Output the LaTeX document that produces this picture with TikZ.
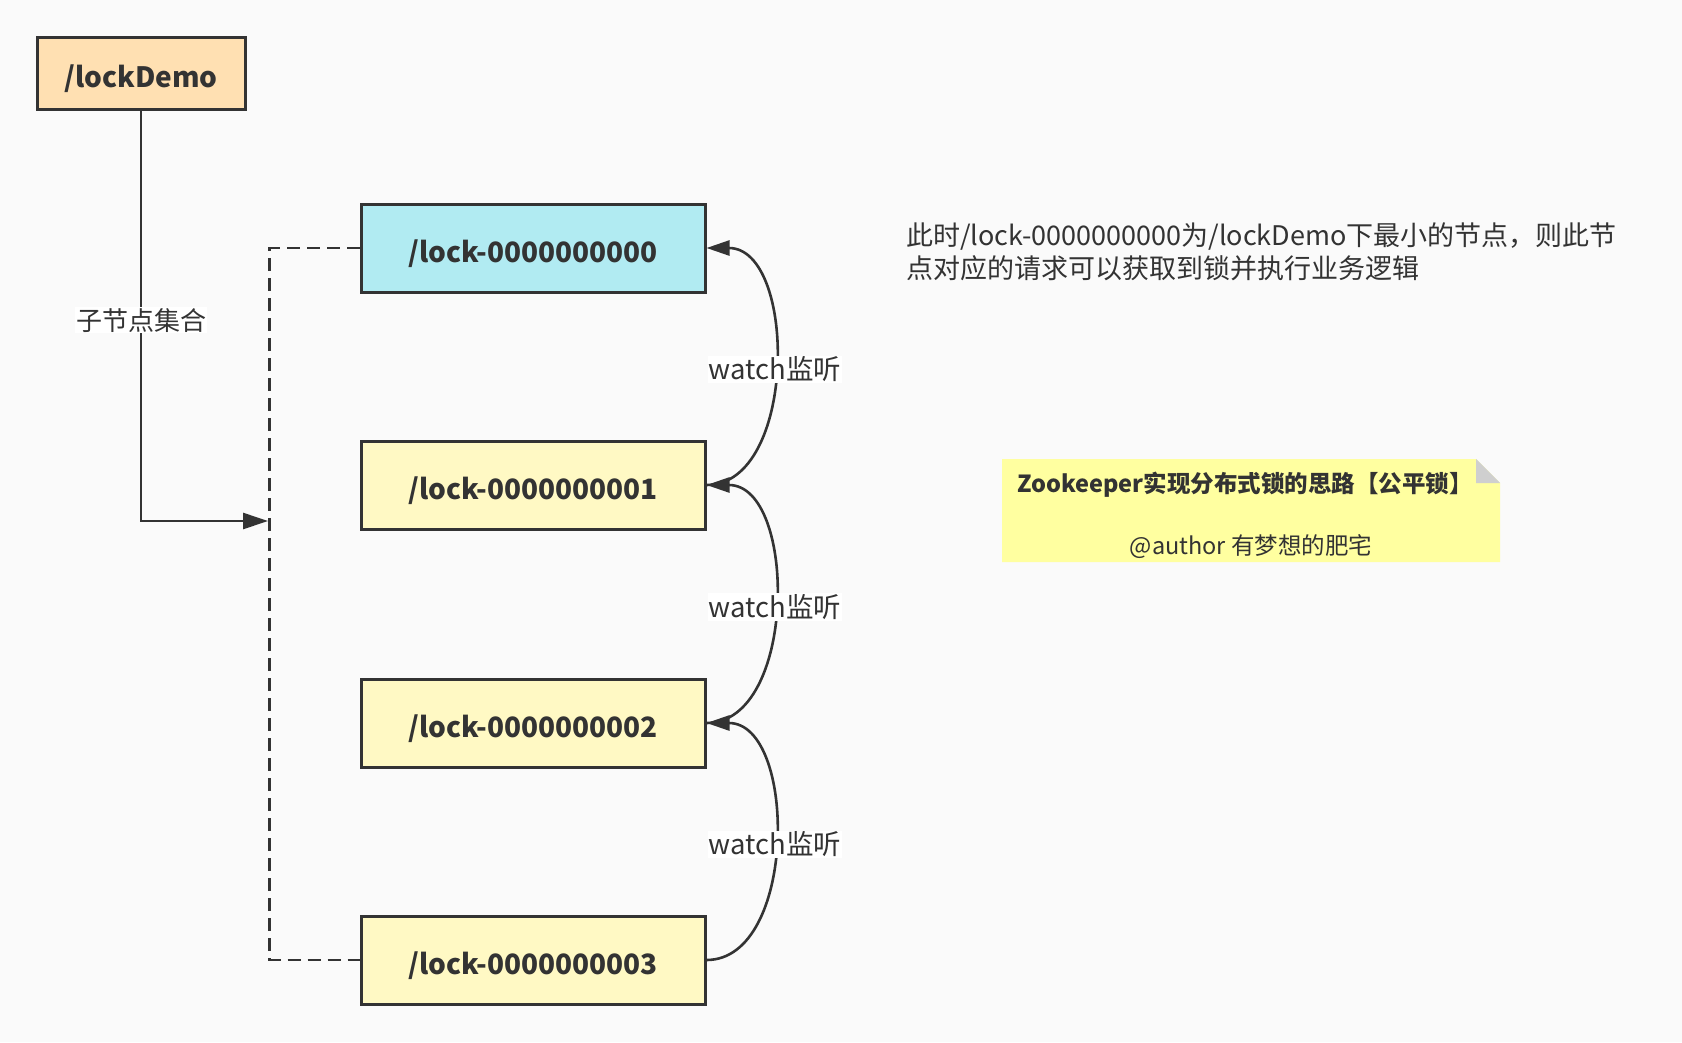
\documentclass[tikz,border=0pt]{standalone}
\usepackage{fontspec}
\setmainfont{Noto Sans CJK SC}
\usetikzlibrary{arrows.meta}
\definecolor{paper}{HTML}{FAFAFA}
\definecolor{ink}{HTML}{333333}
\definecolor{demofill}{HTML}{FFE0B2}
\definecolor{headfill}{HTML}{B1EBF2}
\definecolor{waitfill}{HTML}{FFF9C4}
\definecolor{notefill}{HTML}{FFFFA0}
\definecolor{foldfill}{HTML}{CFCFCF}

\tikzset{
  box/.style={draw=ink, line width=3pt, text=ink, minimum width=344pt, minimum height=88pt,
    text height=32pt, text depth=3pt, font=\fontsize{28}{34}\selectfont\bfseries},
  wait/.style={box, fill=waitfill},
  lbl/.style={fill=white, text=ink, inner sep=1pt, yshift=-3pt, font=\fontsize{26}{30}\selectfont},
  link/.style={draw=ink, line width=2.6pt, -{Triangle[length=25pt,width=16pt]}},
  queue/.style={draw=ink, line width=2.6pt, dash pattern=on 13pt off 7pt},
  watch/.style={draw=ink, line width=2.6pt, -{Triangle[length=23pt,width=15pt]}}
}

\begin{document}
\begin{tikzpicture}[x=1pt,y=-1pt]
  \fill[paper] (0,0) rectangle (1682,1042);

  % parent and child nodes
  \node[box, fill=demofill, minimum width=208pt, minimum height=72pt] (demo) at (141,73) {/lockDemo};
  \node[box, fill=headfill] (lock0) at (533,248) {/lock-0000000000};
  \node[wait] (lock1) at (533,485) {/lock-0000000001};
  \node[wait] (lock2) at (533,723) {/lock-0000000002};
  \node[wait] (lock3) at (533,960) {/lock-0000000003};

  % children list
  \coordinate (bus) at (268,521);
  \draw[link] (demo) |- node[lbl, pos=0.252] (kids) {子节点集合} (bus);
  \draw[queue] (lock0.west) -- ++(-90,0) |- (lock3.west);

  % each node watches the one before it
  \foreach \a/\b in {1/0,2/1,3/2}
    \draw[watch] (lock\a.east) .. controls +(91,0) and +(91,0) .. node[lbl, font=\fontsize{27.5}{30}\selectfont] (w\a) {watch监听} (lock\b.east);

  \node[anchor=west, align=left, text=ink, inner sep=0, font=\fontsize{27}{33}\selectfont] (hint) at (906,252)
    {此时/lock-0000000000为/lockDemo下最小的节点，则此节\\点对应的请求可以获取到锁并执行业务逻辑};

  % note
  \fill[notefill] (1002,459) -- (1476,459) -- (1500,483) -- (1500,562) -- (1002,562) -- cycle;
  \fill[foldfill] (1476,459) -- (1476,483) -- (1500,483) -- cycle;
  \node[text=ink, font=\fontsize{23.5}{28}\selectfont\bfseries] (title) at (1245,485) {Zookeeper实现分布式锁的思路【公平锁】};
  \node[text=ink, font=\fontsize{23.5}{28}\selectfont] (author) at (1251,547) {@author 有梦想的肥宅};
\end{tikzpicture}
\end{document}
